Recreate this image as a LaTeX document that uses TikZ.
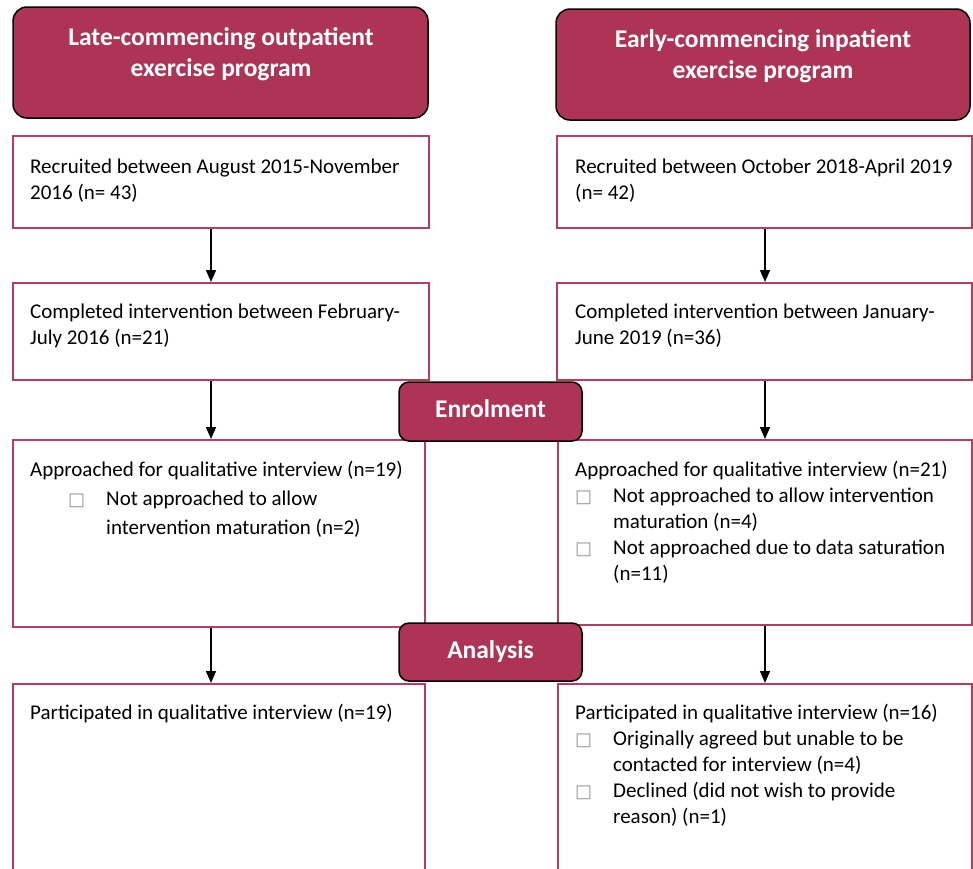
\documentclass[tikz,border=0pt]{standalone}
\usepackage{fontspec}
\setmainfont{Carlito}
\newfontfamily\symfont{DejaVu Sans}
\usetikzlibrary{arrows.meta}
\definecolor{hdr}{RGB}{174,52,86}
\definecolor{brd}{RGB}{182,60,96}
\definecolor{bul}{RGB}{150,150,150}
\newcommand{\bx}{{\symfont\color{bul}\fontsize{18}{18}\selectfont □}}
\begin{document}
\begin{tikzpicture}[x=1pt,y=-1pt,
  hdrbox/.style={draw=black, line width=1.5pt, fill=hdr, rounded corners=14pt, inner sep=0pt},
  hdrtxt/.style={text=white, font=\bfseries\fontsize{25.5}{31}\selectfont, align=center, inner sep=0pt, anchor=base},
  wbox/.style={draw=brd, line width=2pt, fill=white, inner sep=0pt},
  txt/.style={anchor=base west, align=left, inner sep=0pt, font=\fontsize{21}{26}\selectfont},
  arr/.style={-{Triangle[length=12pt,width=10pt]}, line width=1.5pt}]
\useasboundingbox (0,0) rectangle (973,868);
\clip (0,0) rectangle (973,868);
% headers (anchor base = last line)
\node[hdrbox, minimum width=415pt, minimum height=111pt] (hl) at (220.5,62.5) {};
\node[hdrtxt] (hlt) at (221,76) {Late-commencing outpatient\\exercise program};
\node[hdrbox, minimum width=414pt, minimum height=111pt] (hr) at (763,64.5) {};
\node[hdrtxt] (hrt) at (763,78) {Early-commencing inpatient\\exercise program};
% row 1
\node[wbox, minimum width=416pt, minimum height=92pt] (l1) at (221,182) {};
\node[txt] (l1t) at (30,199) {Recruited between August 2015-November\\2016 (n= 43)};
\node[wbox, minimum width=415pt, minimum height=92pt] (r1) at (764.5,182) {};
\node[txt] (r1t) at (575,199) {Recruited between October 2018-April 2019\\(n= 42)};
% row 2
\node[wbox, minimum width=416pt, minimum height=97pt] (l2) at (221,331.5) {};
\node[txt] (l2t) at (30,344) {Completed intervention between February-\\July 2016 (n=21)};
\node[wbox, minimum width=415pt, minimum height=97pt] (r2) at (764.5,331.5) {};
\node[txt] (r2t) at (575,344) {Completed intervention between January-\\June 2019 (n=36)};
% row 3
\node[wbox, minimum width=412pt, minimum height=187pt] (l3) at (219,533.5) {};
\node[txt] (l3t) at (30,534) {Approached for qualitative interview (n=19)\\[3pt]
\hspace*{38pt}\makebox[38pt][l]{\bx}Not approached to allow\\[3pt]
\hspace*{76pt}intervention maturation (n=2)};
\node[wbox, minimum width=414pt, minimum height=185pt] (r3) at (765,532.5) {};
\node[txt] (r3t) at (575,580) {Approached for qualitative interview (n=21)\\
\makebox[38pt][l]{\bx}Not approached to allow intervention\\
\hspace*{38pt}maturation (n=4)\\
\makebox[38pt][l]{\bx}Not approached due to data saturation\\
\hspace*{38pt}(n=11)};
% row 4
\node[wbox, minimum width=412pt, minimum height=216pt] (l4) at (219,792) {};
\node[txt] (l4t) at (30,719) {Participated in qualitative interview (n=19)};
\node[wbox, minimum width=414pt, minimum height=216pt] (r4) at (765,792) {};
\node[txt] (r4t) at (575,823) {Participated in qualitative interview (n=16)\\
\makebox[38pt][l]{\bx}Originally agreed but unable to be\\
\hspace*{38pt}contacted for interview (n=4)\\
\makebox[38pt][l]{\bx}Declined (did not wish to provide\\
\hspace*{38pt}reason) (n=1)};
% stage labels
\node[hdrbox, rounded corners=10pt, minimum width=183pt, minimum height=59pt] (enr) at (490.5,411.5) {};
\node[hdrtxt] (enrt) at (490.5,417) {Enrolment};
\node[hdrbox, rounded corners=10pt, minimum width=183pt, minimum height=58pt] (ana) at (490.5,652) {};
\node[hdrtxt] (anat) at (490.5,658) {Analysis};
% arrows
\coordinate (axL) at (211,0);
\coordinate (axR) at (765,0);
\draw[arr] (axL |- l1.south) -- (axL |- l2.north);
\draw[arr] (axR |- r1.south) -- (axR |- r2.north);
\draw[arr] (axL |- l2.south) -- (axL |- l3.north);
\draw[arr] (axR |- r2.south) -- (axR |- r3.north);
\draw[arr] (axL |- l3.south) -- (axL |- l4.north);
\draw[arr] (axR |- r3.south) -- (axR |- r4.north);
\end{tikzpicture}
\end{document}
